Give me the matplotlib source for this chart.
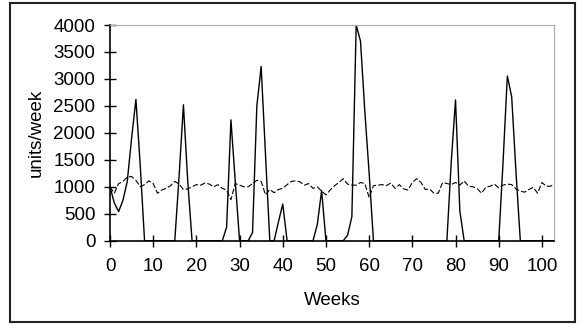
import matplotlib.pyplot as plt
from matplotlib.patches import Rectangle

plt.rcParams['font.family'] = ['Liberation Sans', 'DejaVu Sans']

weeks = list(range(104))

# actual weekly demand (solid)
demand = [1000, 700, 540, 750, 1100, 1900, 2620, 1400, 0, 0,
          0, 0, 0, 0, 0, 0, 1200, 2520, 1100, 0,
          0, 0, 0, 0, 0, 0, 0, 250, 2240, 1100,
          0, 0, 0, 150, 2500, 3230, 1600, 0, 0, 350,
          680, 0, 0, 0, 0, 0, 0, 0, 300, 930,
          0, 0, 0, 0, 0, 100, 445, 4000, 3700, 2400,
          1250, 0, 0, 0, 0, 0, 0, 0, 0, 0,
          0, 0, 0, 0, 0, 0, 0, 0, 0, 1450,
          2610, 550, 0, 0, 0, 0, 0, 0, 0, 0,
          0, 1450, 3055, 2670, 1270, 0, 0, 0, 0, 0,
          0, 0, 0, 0]

# forecast (dashed)
forecast = [1000, 880, 1060, 1100, 1180, 1190, 1120, 1000, 1040, 1110,
            1060, 880, 940, 970, 1020, 1100, 1050, 950, 960, 1000,
            1040, 1030, 1070, 1050, 1000, 1040, 970, 940, 760, 1060,
            1030, 1000, 1000, 1060, 1120, 1100, 850, 950, 890, 950,
            970, 1040, 1100, 1110, 1090, 1030, 1060, 970, 1000, 920,
            850, 940, 1020, 1080, 1150, 1050, 1030, 1030, 1080, 1060,
            800, 1020, 1030, 1040, 1020, 1070, 970, 1040, 960, 940,
            1080, 1150, 1080, 950, 960, 880, 880, 1080, 1060, 1040,
            1080, 1030, 1110, 1010, 1000, 970, 880, 990, 1010, 1050,
            980, 1030, 1050, 1040, 960, 920, 900, 950, 990, 880,
            1080, 1010, 1010, 1060]

fig = plt.figure(figsize=(5.82, 3.25), dpi=100)
fig.patches.append(Rectangle((10 / 582, 3 / 325), 565 / 582, 319 / 325,
                             transform=fig.transFigure, fill=False,
                             edgecolor='#222222', linewidth=1.5))

ax = fig.add_axes([110 / 582, 1 - 240.7 / 325, 444 / 582, 215.7 / 325])
ax.plot(weeks, demand, color='black', linewidth=1.0)
ax.plot(weeks, forecast, color='black', linewidth=0.8, linestyle=(0, (5, 2)))

ax.set_xlim(0, 102.8)
ax.set_ylim(0, 4000)
ax.set_xticks(range(0, 101, 10))
ax.set_yticks(range(0, 4001, 500))
ax.tick_params(direction='inout', length=9, width=1, labelsize=13.5)
ax.tick_params(axis='x', pad=8)
ax.tick_params(axis='y', pad=6)
for s in ['top', 'right']:
    ax.spines[s].set_color('#aaaaaa')
for s in ['left', 'bottom']:
    ax.spines[s].set_linewidth(1.2)

ax.set_xlabel('Weeks', fontsize=13.5, labelpad=12)
ax.set_ylabel('units/week', fontsize=13.5, labelpad=6)

fig.savefig('out.png', dpi=100)
